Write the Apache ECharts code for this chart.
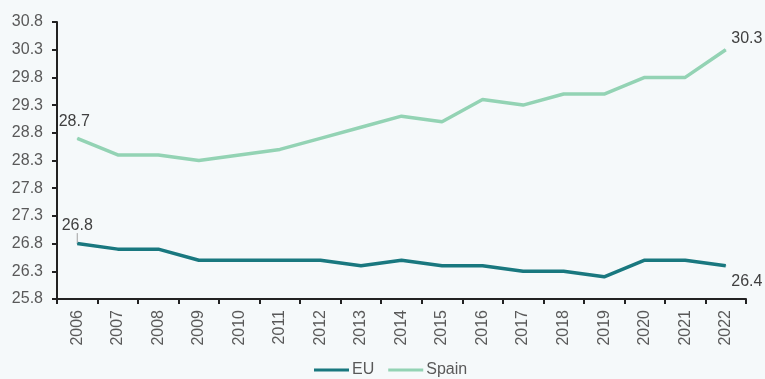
<!DOCTYPE html>
<html>
<head>
<meta charset="utf-8">
<script src="https://cdn.jsdelivr.net/npm/echarts@6/dist/echarts.min.js"></script>
<style>
html,body{margin:0;padding:0;background:#f5f9fa;}
#c{width:765px;height:379px;}
</style>
</head>
<body>
<div id="c"></div>
<script>
const years = ['2006','2007','2008','2009','2010','2011','2012','2013','2014','2015','2016','2017','2018','2019','2020','2021','2022'];
const euValues = [26.8,26.7,26.7,26.5,26.5,26.5,26.5,26.4,26.5,26.4,26.4,26.3,26.3,26.2,26.5,26.5,26.4];
const spainValues = [28.7,28.4,28.4,28.3,28.4,28.5,28.7,28.9,29.1,29.0,29.4,29.3,29.5,29.5,29.8,29.8,30.3];
const yTicks = [25.8,26.3,26.8,27.3,27.8,28.3,28.8,29.3,29.8,30.3,30.8];

const FONT = 'Liberation Sans, Arial, sans-serif';
const labelStyle = {color:'#404040', fontSize:16, fontFamily:FONT};

function withLabels(values, firstLabel, lastLabel, firstLine){
  return values.map((v,i)=>{
    if(i===0) return {value:v, label:Object.assign({show:true, formatter:v.toFixed(1)}, labelStyle, firstLabel), labelLine:{show:!!firstLine}};
    if(i===values.length-1) return {value:v, label:Object.assign({show:true, formatter:v.toFixed(1)}, labelStyle, lastLabel), labelLine:{show:false}};
    return v;
  });
}

const chart = echarts.init(document.getElementById('c'), null, {renderer:'canvas'});
chart.setOption({
  backgroundColor:'#f5f9fa',
  animation:false,
  grid:{left:57, right:19, top:22, bottom:80},
  legend:{
    top:362, left:314, padding:0,
    icon:'rect', itemWidth:35, itemHeight:3, itemGap:14,
    textStyle:{color:'#595959', fontSize:16, fontFamily:FONT, padding:[0,0,0,-2]},
    data:[{name:'EU', itemStyle:{color:'#19787f', opacity:1}},{name:'Spain', itemStyle:{color:'#93d3b4', opacity:1}}]
  },
  xAxis:{
    type:'category', data:years, boundaryGap:true,
    axisLine:{lineStyle:{color:'#222', width:2}},
    axisTick:{show:true, length:5, lineStyle:{color:'#222', width:2}},
    axisLabel:{rotate:90, color:'#595959', fontSize:16, margin:11, fontFamily:FONT, interval:0}
  },
  yAxis:{
    type:'value', min:25.8, max:30.8,
    axisLine:{show:true, lineStyle:{color:'#222', width:2}},
    axisTick:{show:true, length:5, customValues:yTicks, lineStyle:{color:'#222', width:2}},
    axisLabel:{customValues:yTicks, color:'#595959', fontSize:16, margin:14, fontFamily:FONT, formatter:v=>v.toFixed(1)},
    splitLine:{show:false}
  },
  series:[
    {name:'EU', type:'line', symbol:'circle', symbolSize:1, showSymbol:true, color:'#19787f',
     itemStyle:{color:'#19787f'},
     lineStyle:{width:3.5, color:'#19787f'},
     data:withLabels(euValues, {position:'top', offset:[1,-2]}, {position:'right'}, true),
     labelLine:{show:true, lineStyle:{color:'#a0a0a0', width:1}},
     labelLayout:function(p){
       if(p.dataIndex===0) return {dy:-5};
       if(p.dataIndex===euValues.length-1) return {dy:16};
       return {};
     }
    },
    {name:'Spain', type:'line', symbol:'circle', symbolSize:1, showSymbol:true, color:'#93d3b4',
     itemStyle:{color:'#93d3b4'},
     lineStyle:{width:3.5, color:'#93d3b4'},
     data:withLabels(spainValues, {position:'top', offset:[-3,-3]}, {position:'right', offset:[0,-11]}, false)
    }
  ]
});
</script>
</body>
</html>
